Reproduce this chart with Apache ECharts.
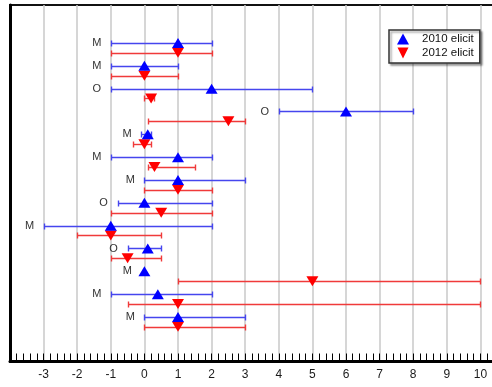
<!DOCTYPE html>
<html><head><meta charset="utf-8">
<script src="https://cdn.jsdelivr.net/npm/echarts@6/dist/echarts.min.js"></script>
<style>html,body{margin:0;padding:0;background:#fff}#c{width:492px;height:387px}</style>
</head><body><div id="c"></div>
<script>
// ---- data ----
const rowLabels = ['M','M','O','O','M','M','M','O','M','O','M','M','M'];
const mid2010  = [1, 0, 2, 6, 0.1, 1, 1, 0, -1, 0.1, 0, 0.4, 1];
const low2010  = [-1, -1, -1, 4, -0.1, -1, 0, -0.8, -3, -0.5, null, -1, 0];
const high2010 = [2, 1, 5, 8, 0.2, 2, 3, 2, 2, 0.5, null, 2, 3];
const mid2012  = [1, 0, 0.2, 2.5, 0, 0.3, 1, 0.5, -1, -0.5, 5, 1, 1];
const low2012  = [-1, -1, 0, 0.1, -0.35, 0.1, 0, -1, -2, -1, 1, -0.5, 0];
const high2012 = [2, 1, 0.3, 3, 0.2, 1.5, 2, 2, 0.5, 0.5, 10, 10, 3];
const xTickLabels = [-3,-2,-1,0,1,2,3,4,5,6,7,8,9,10];
const seriesNames = ['2010 elicit', '2012 elicit'];

const OFFSET12 = 0.43;
const y2010 = rowLabels.map((_, i) => i + 1);
const y2012 = y2010.map(v => v + OFFSET12);

const bars2010 = low2010.map((l, i) => [l, high2010[i], y2010[i]]).filter(d => d[0] !== null);
const bars2012 = low2012.map((l, i) => [l, high2012[i], y2012[i]]);
const pts2010 = mid2010.map((m, i) => [m, y2010[i]]);
const pts2012 = mid2012.map((m, i) => [m, y2012[i]]);
const labelData = rowLabels.map((t, i) => [low2010[i] !== null ? low2010[i] : mid2010[i], y2010[i], t, low2010[i] !== null ? 14 : 17]);

function errRender(color) {
  return function (params, api) {
    const a = api.coord([api.value(0), api.value(2)]);
    const b = api.coord([api.value(1), api.value(2)]);
    const y = Math.round(a[1]) + 0.5;
    const x1 = Math.round(a[0]) + 0.5, x2 = Math.round(b[0]) + 0.5;
    const h = 3;
    const st = { stroke: color, lineWidth: 1.4 };
    return { type: 'group', children: [
      { type: 'line', shape: { x1: x1, y1: y, x2: x2, y2: y }, style: st },
      { type: 'line', shape: { x1: x1, y1: y - h, x2: x1, y2: y + h }, style: st },
      { type: 'line', shape: { x1: x2, y1: y - h, x2: x2, y2: y + h }, style: st }
    ]};
  };
}

const downTri = 'path://M0,0L10,0L5,10Z';
const chart = echarts.init(document.getElementById('c'), null, { renderer: 'canvas' });
chart.setOption({
  animation: false,
  backgroundColor: '#fff',
  grid: { left: 10, right: -22, top: 5, bottom: 25.5, outerBoundsMode: 'none', containLabel: false,
          show: true, borderColor: '#111', borderWidth: 2, backgroundColor: '#fff' },
  xAxis: {
    type: 'value', min: -4, max: 11, interval: 1,
    axisLine: { show: true, onZero: false, lineStyle: { color: '#000', width: 3 } },
    axisTick: { show: true, inside: true, length: 8, lineStyle: { color: '#000', width: 1 } },
    minorTick: { show: true, splitNumber: 5, length: 8, lineStyle: { color: '#000', width: 1 } },
    splitLine: { show: true, lineStyle: { color: '#c8c8c8', width: 1.5 } },
    axisLabel: {
      margin: 7, color: '#1a1a1a', fontSize: 12, fontFamily: 'Liberation Sans',
      formatter: v => xTickLabels.indexOf(v) >= 0 ? String(v) : ''
    }
  },
  yAxis: {
    type: 'value', inverse: true, min: -0.664, max: 14.95,
    axisLine: { show: true, onZero: false, lineStyle: { color: '#000', width: 3 } },
    axisTick: { show: false }, axisLabel: { show: false }, splitLine: { show: false }
  },
  legend: {
    data: [
      { name: seriesNames[0], icon: 'triangle' },
      { name: seriesNames[1], icon: downTri }
    ],
    orient: 'vertical', left: 389, top: 30,
    padding: [2, 6, 3, 8], itemGap: 0, itemWidth: 12, itemHeight: 11,
    backgroundColor: '#fff', borderColor: '#333', borderWidth: 1.5,
    shadowColor: 'rgba(0,0,0,0.35)', shadowBlur: 2, shadowOffsetX: 2, shadowOffsetY: 2,
    textStyle: { fontSize: 11.5, fontFamily: 'Liberation Sans', color: '#111', lineHeight: 14, padding: [0, 0, 0, 8] }
  },
  series: [
    { type: 'custom', name: 'err2010', renderItem: errRender('#4646ee'), data: bars2010, encode: { x: [0, 1], y: 2 }, z: 2, silent: true },
    { type: 'custom', name: 'err2012', renderItem: errRender('#f03a3a'), data: bars2012, encode: { x: [0, 1], y: 2 }, z: 2, silent: true },
    { type: 'scatter', name: seriesNames[0], data: pts2010, symbol: 'triangle', symbolSize: [12, 10], itemStyle: { color: '#0000ff', opacity: 1 }, z: 4 },
    { type: 'scatter', name: seriesNames[1], data: pts2012, symbol: downTri, symbolSize: [12, 10], symbolKeepAspect: false, itemStyle: { color: '#ff0000', opacity: 1 }, z: 3 },
    { type: 'custom', name: 'labels', data: labelData, encode: { x: 0, y: 1 }, z: 5, silent: true,
      renderItem: function (params, api) {
        const p = api.coord([api.value(0), api.value(1)]);
        const d = labelData[params.dataIndex];
        return { type: 'text', x: p[0] - d[3], y: p[1], style: { text: d[2], fill: '#333', font: '11px "Liberation Sans"', align: 'center', verticalAlign: 'middle' } };
      }
    }
  ]
});
</script></body></html>
